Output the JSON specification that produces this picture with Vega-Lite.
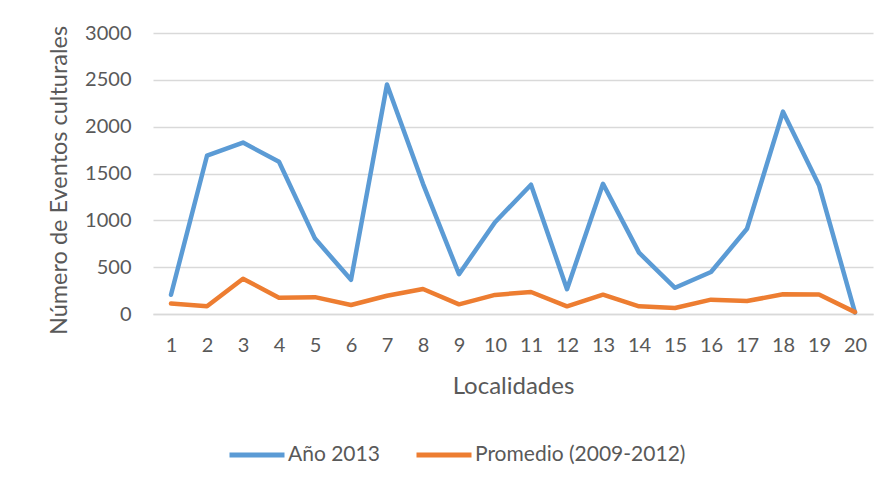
{
  "$schema": "https://vega.github.io/schema/vega-lite/v6.json",
  "width": 720,
  "height": 281,
  "autosize": {"type": "none"},
  "padding": {"left": 153, "top": 33, "right": 17, "bottom": 177},
  "background": "white",
  "config": {
    "view": {"stroke": null},
    "font": "Lato",
    "axis": {"labelFont": "Lato", "titleFont": "Lato", "labelColor": "#595959", "titleColor": "#595959", "titleFontWeight": "normal"},
    "legend": {"labelFont": "Lato"}
  },
  "data": {
    "values": [
      {"loc": 1, "serie": "Año 2013", "v": 205},
      {"loc": 2, "serie": "Año 2013", "v": 1690},
      {"loc": 3, "serie": "Año 2013", "v": 1830},
      {"loc": 4, "serie": "Año 2013", "v": 1625},
      {"loc": 5, "serie": "Año 2013", "v": 805},
      {"loc": 6, "serie": "Año 2013", "v": 365},
      {"loc": 7, "serie": "Año 2013", "v": 2450},
      {"loc": 8, "serie": "Año 2013", "v": 1390},
      {"loc": 9, "serie": "Año 2013", "v": 425},
      {"loc": 10, "serie": "Año 2013", "v": 980},
      {"loc": 11, "serie": "Año 2013", "v": 1380},
      {"loc": 12, "serie": "Año 2013", "v": 265},
      {"loc": 13, "serie": "Año 2013", "v": 1390},
      {"loc": 14, "serie": "Año 2013", "v": 655},
      {"loc": 15, "serie": "Año 2013", "v": 280},
      {"loc": 16, "serie": "Año 2013", "v": 448},
      {"loc": 17, "serie": "Año 2013", "v": 910},
      {"loc": 18, "serie": "Año 2013", "v": 2160},
      {"loc": 19, "serie": "Año 2013", "v": 1375},
      {"loc": 20, "serie": "Año 2013", "v": 15},
      {"loc": 1, "serie": "Promedio (2009-2012)", "v": 112},
      {"loc": 2, "serie": "Promedio (2009-2012)", "v": 82},
      {"loc": 3, "serie": "Promedio (2009-2012)", "v": 377},
      {"loc": 4, "serie": "Promedio (2009-2012)", "v": 174},
      {"loc": 5, "serie": "Promedio (2009-2012)", "v": 180},
      {"loc": 6, "serie": "Promedio (2009-2012)", "v": 96},
      {"loc": 7, "serie": "Promedio (2009-2012)", "v": 195},
      {"loc": 8, "serie": "Promedio (2009-2012)", "v": 267},
      {"loc": 9, "serie": "Promedio (2009-2012)", "v": 103},
      {"loc": 10, "serie": "Promedio (2009-2012)", "v": 204},
      {"loc": 11, "serie": "Promedio (2009-2012)", "v": 235},
      {"loc": 12, "serie": "Promedio (2009-2012)", "v": 82},
      {"loc": 13, "serie": "Promedio (2009-2012)", "v": 206},
      {"loc": 14, "serie": "Promedio (2009-2012)", "v": 82},
      {"loc": 15, "serie": "Promedio (2009-2012)", "v": 64},
      {"loc": 16, "serie": "Promedio (2009-2012)", "v": 153},
      {"loc": 17, "serie": "Promedio (2009-2012)", "v": 139},
      {"loc": 18, "serie": "Promedio (2009-2012)", "v": 210},
      {"loc": 19, "serie": "Promedio (2009-2012)", "v": 208},
      {"loc": 20, "serie": "Promedio (2009-2012)", "v": 20}
    ]
  },
  "mark": {"type": "line", "strokeWidth": 4.5, "strokeJoin": "round", "strokeCap": "round"},
  "encoding": {
    "x": {
      "field": "loc", "type": "ordinal", "title": "Localidades",
      "scale": {"type": "point", "padding": 0.5},
      "axis": {"labelAngle": 0, "ticks": false, "domain": true, "domainColor": "#D9D9D9", "domainWidth": 1.5, "labelFontSize": 20, "labelPadding": 21, "titleFontSize": 24, "titlePadding": 19, "grid": false}
    },
    "y": {
      "field": "v", "type": "quantitative", "title": "Número de Eventos culturales",
      "scale": {"domain": [0, 3000]},
      "axis": {"values": [0, 500, 1000, 1500, 2000, 2500, 3000], "format": "d", "ticks": false, "domain": false, "gridColor": "#D9D9D9", "gridWidth": 1.5, "labelFontSize": 20, "labelPadding": 22, "titleFontSize": 23.5, "titlePadding": 13, "titleY": 147}
    },
    "color": {
      "field": "serie", "type": "nominal",
      "scale": {"domain": ["Año 2013", "Promedio (2009-2012)"], "range": ["#5B9BD5", "#ED7D31"]},
      "legend": {"orient": "none", "legendX": 74, "legendY": 392, "direction": "horizontal", "title": null, "symbolType": "stroke", "symbolSize": 3025, "symbolStrokeWidth": 5, "labelFontSize": 21, "labelColor": "#595959", "labelOffset": 1, "labelLimit": 0, "columnPadding": 26}
    }
  }
}
